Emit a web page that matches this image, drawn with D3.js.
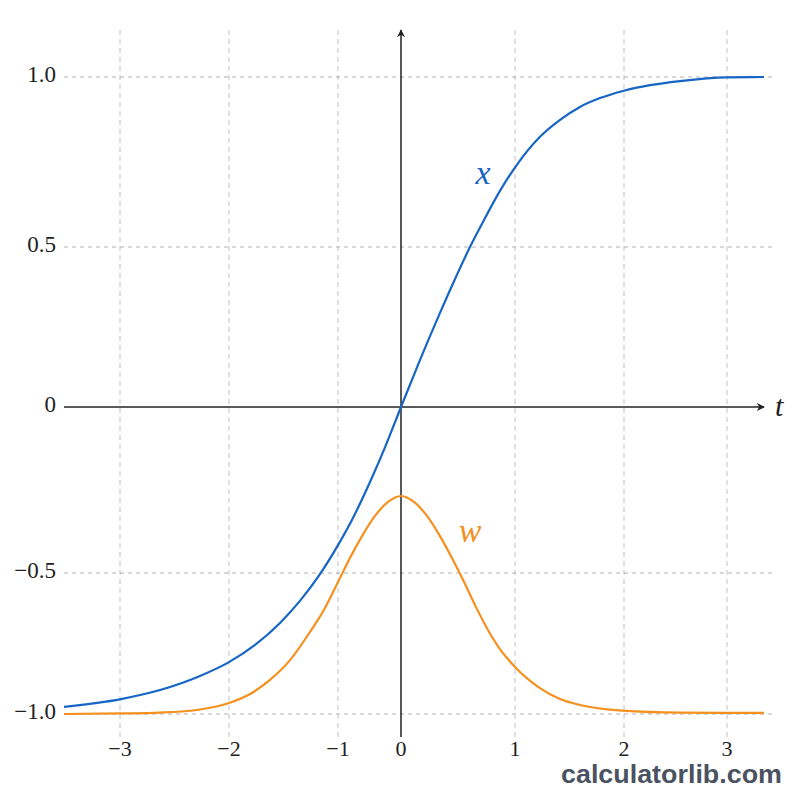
<!DOCTYPE html>
<html>
<head>
<meta charset="utf-8">
<script src="https://cdn.jsdelivr.net/npm/d3@7"></script>
<style>
  body { margin: 0; background: #fff; }
  svg { display: block; }
</style>
</head>
<body>
<svg id="chart"></svg>
<script>
// tick values and labels
const tTicks = [-3, -2, -1, 0, 1, 2, 3];
const tLabels = ["\u22123", "\u22122", "\u22121", "0", "1", "2", "3"];
const vTicks = [-1, -0.5, 0, 0.5, 1];
const vLabels = ["\u22121.0", "\u22120.5", "0", "0.5", "1.0"];

// curve x (blue)
const xT = [-3.514, -2.991, -2.633, -2.266, -2.0, -1.761, -1.532, -1.349, -1.183, -1.0, -0.730, -0.492, -0.238, 0,
            0.167, 0.342, 0.474, 0.605, 0.737, 0.868, 1.009, 1.229, 1.413, 1.596, 1.780, 1.991, 2.252, 2.544, 3.0, 3.359];
const xV = [-0.975, -0.947, -0.915, -0.865, -0.816, -0.755, -0.677, -0.599, -0.514, -0.416, -0.322, -0.226, -0.114, 0,
            0.147, 0.294, 0.400, 0.5, 0.585, 0.665, 0.738, 0.824, 0.874, 0.912, 0.938, 0.959, 0.976, 0.988, 0.999, 1.0];

// curve w (orange)
const wT = [-3.514, -2.991, -2.633, -2.266, -2.0, -1.807, -1.624, -1.440, -1.257, -1.119, -1.0, -0.810, -0.619, -0.413, -0.206, 0,
            0.114, 0.228, 0.342, 0.447, 0.553, 0.658, 0.763, 0.868, 1.0, 1.229, 1.413, 1.596, 1.982, 2.544, 3.359];
const wV = [-1.0, -0.998, -0.995, -0.984, -0.961, -0.929, -0.879, -0.809, -0.709, -0.624, -0.532, -0.455, -0.389, -0.328, -0.286, -0.268,
            -0.286, -0.328, -0.389, -0.455, -0.532, -0.621, -0.702, -0.770, -0.833, -0.908, -0.947, -0.968, -0.988, -0.995, -0.996];

const width = 800, height = 800;
const svg = d3.select("#chart").attr("width", width).attr("height", height);

// the picture's axes are not evenly spaced, so piecewise scales
const xScale = d3.scaleLinear().domain(tTicks).range([120, 229, 338, 401, 515, 624, 727]);
const yScale = d3.scaleLinear().domain(vTicks).range([714, 573, 407, 247, 77]);

const x0 = xScale(0), y0 = yScale(0);
const serif = "'Liberation Serif', 'DejaVu Serif', serif";

// grid
svg.append("g").selectAll("line")
  .data(tTicks.filter(d => d !== 0))
  .enter().append("line")
  .attr("x1", d => xScale(d)).attr("x2", d => xScale(d))
  .attr("y1", 30).attr("y2", 737)
  .attr("stroke", "#c2c2c2").attr("stroke-width", 1)
  .attr("stroke-dasharray", "5,4");

svg.append("g").selectAll("line")
  .data(vTicks.filter(d => d !== 0))
  .enter().append("line")
  .attr("x1", 64).attr("x2", 774)
  .attr("y1", d => yScale(d)).attr("y2", d => yScale(d))
  .attr("stroke", "#b0b0b0").attr("stroke-width", 1)
  .attr("stroke-dasharray", "4,4");

// arrow marker
svg.append("defs").append("marker")
  .attr("id", "arrow")
  .attr("viewBox", "0 0 10 10")
  .attr("refX", 9).attr("refY", 5)
  .attr("markerWidth", 8).attr("markerHeight", 8)
  .attr("markerUnits", "userSpaceOnUse")
  .attr("orient", "auto")
  .append("path").attr("d", "M0,0 L10,5 L0,10 L3,5 Z").attr("fill", "#222");

// axes
svg.append("line")
  .attr("x1", 64).attr("x2", 764).attr("y1", y0).attr("y2", y0)
  .attr("stroke", "#222").attr("stroke-width", 1.5)
  .attr("marker-end", "url(#arrow)");

svg.append("line")
  .attr("x1", x0).attr("x2", x0).attr("y1", 737).attr("y2", 30)
  .attr("stroke", "#222").attr("stroke-width", 1.5)
  .attr("marker-end", "url(#arrow)");

// tick labels
svg.append("g").selectAll("text")
  .data(tTicks)
  .enter().append("text")
  .attr("x", d => xScale(d))
  .attr("y", 751)
  .attr("text-anchor", "middle")
  .attr("dominant-baseline", "middle")
  .style("font-family", serif).style("font-size", "22px").attr("fill", "#222")
  .text((d, i) => tLabels[i]);

svg.append("g").selectAll("text")
  .data(vTicks)
  .enter().append("text")
  .attr("x", 56)
  .attr("y", d => yScale(d))
  .attr("text-anchor", "end")
  .attr("dominant-baseline", "middle")
  .style("font-family", serif).style("font-size", "23px").attr("fill", "#222")
  .text((d, i) => vLabels[i]);

svg.append("text")
  .attr("x", 775).attr("y", y0 + 9)
  .style("font-family", serif).style("font-style", "italic").style("font-size", "30px")
  .attr("fill", "#222").text("t");

// curves
const line = d3.line()
  .x(d => xScale(d[0]))
  .y(d => yScale(d[1]))
  .curve(d3.curveMonotoneX);

svg.append("path")
  .datum(wT.map((t, i) => [t, wV[i]]))
  .attr("d", line)
  .attr("fill", "none").attr("stroke", "#f5901e").attr("stroke-width", 2.2);

svg.append("path")
  .datum(xT.map((t, i) => [t, xV[i]]))
  .attr("d", line)
  .attr("fill", "none").attr("stroke", "#1766c6").attr("stroke-width", 2.2);

// curve labels
svg.append("text")
  .attr("x", 483).attr("y", 172)
  .attr("text-anchor", "middle")
  .attr("dominant-baseline", "central")
  .style("font-family", serif).style("font-style", "italic").style("font-size", "34px")
  .attr("fill", "#1766c6").text("x");

svg.append("text")
  .attr("x", 470).attr("y", 530)
  .attr("text-anchor", "middle")
  .attr("dominant-baseline", "central")
  .style("font-family", serif).style("font-style", "italic").style("font-size", "34px")
  .attr("fill", "#f5901e").text("w");

// watermark
svg.append("text")
  .attr("x", 561).attr("y", 783)
  .attr("textLength", 221).attr("lengthAdjust", "spacingAndGlyphs")
  .style("font-family", "'Liberation Sans', Arial, sans-serif")
  .style("font-weight", "bold").style("font-size", "26px")
  .attr("fill", "#4a5262").text("calculatorlib.com");
</script>
</body>
</html>
